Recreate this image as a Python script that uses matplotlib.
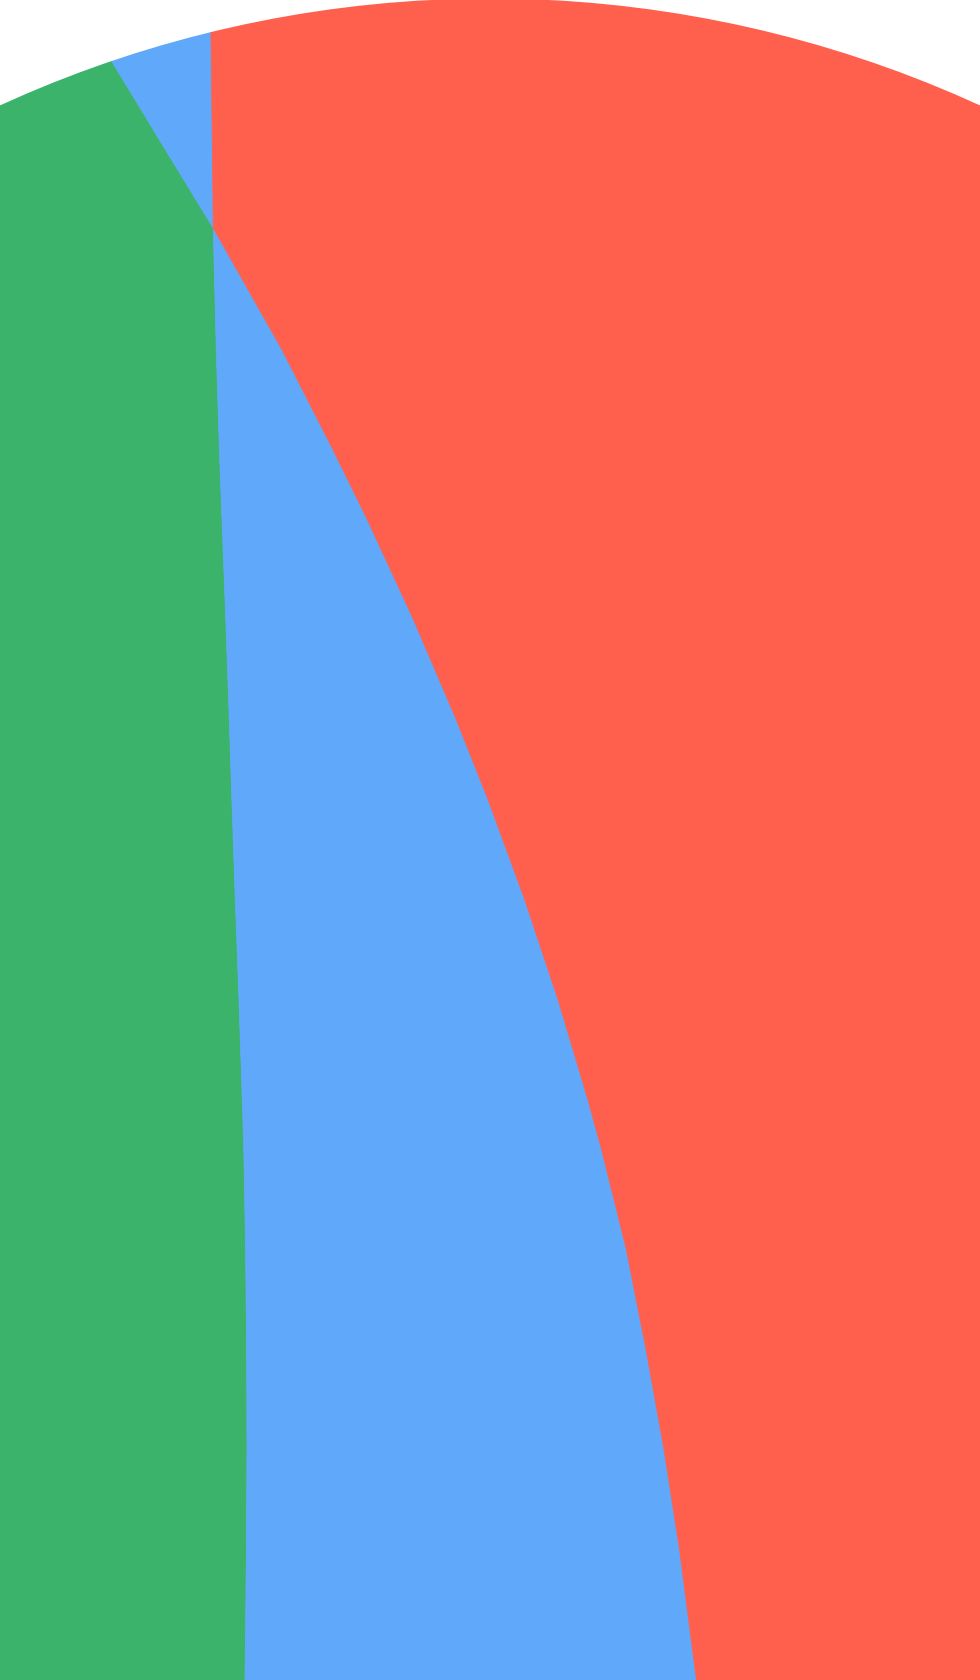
import numpy as np
import matplotlib
matplotlib.use("Agg")
import matplotlib.pyplot as plt
from matplotlib.patches import Circle

y_levels = [0, 61, 150, 229, 290, 350, 450, 520, 620, 720, 800, 900, 1000, 1100,
            1150, 1250, 1350, 1450, 1550, 1681]
# nearly vertical boundary
edge_a = [210.6, 211.3, 212.4, 213.3, 214.8, 216.3, 219.4, 222.0, 225.8, 229.3,
          231.9, 235.3, 239.0, 242.3, 243.8, 245.6, 246.7, 247.0, 246.5, 245.0]
# slanted boundary
edge_b = [74.0, 111.0, 165.0, 213.3, 247.8, 281.7, 332.7, 367.1, 413.3, 456.1,
          487.9, 524.6, 557.9, 587.8, 601.5, 626.3, 646.0, 664.0, 679.5, 696.5]

colors = ["#3CB36B", "#60A8FA", "#FF5F4D"]  # green, blue, red

# outer rim of the disc
rim_center = (490, 1175.5)
rim_radius = 1176

W, H = 980, 1681

fig = plt.figure(figsize=(W / 100, H / 100), dpi=100)
ax = fig.add_axes([0, 0, 1, 1])
ax.set_xlim(0, W)
ax.set_ylim(H, 0)
ax.axis("off")

y = np.array(y_levels, dtype=float)
a = np.array(edge_a)
b = np.array(edge_b)
left = np.minimum(a, b)
right = np.maximum(a, b)

rim = Circle(rim_center, rim_radius, transform=ax.transData)

layers = [
    ax.fill_betweenx(y, 0, left, color=colors[0], lw=0.6),
    ax.fill_betweenx(y, left, right, color=colors[1], lw=0.6),
    ax.fill_betweenx(y, right, W, color=colors[2], lw=0.6),
]
for p in layers:
    p.set_clip_path(rim)

fig.savefig("out.png", dpi=100, facecolor="white")
